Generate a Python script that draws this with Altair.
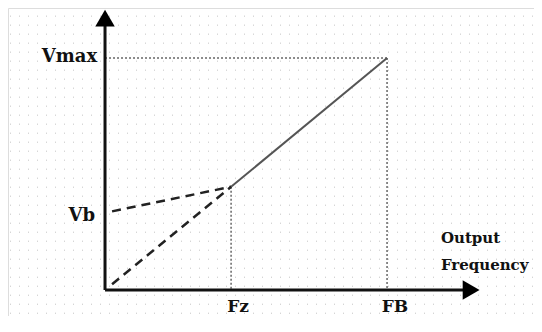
import altair as alt
import pandas as pd

# Conceptual units: frequency axis with FB = 100, voltage axis with Vmax = 100
FZ, FB = 44.7, 100.0
VB, VZ, VMAX = 33.9, 44.5, 100.0

# plotted curve segments
solid_x = [FZ, FB]
solid_y = [VZ, VMAX]
dash_b_x = [2.5, FZ]
dash_b_y = [VB, VZ]
dash_0_x = [2.5, FZ]
dash_0_y = [2.5, VZ]

# label text
label_text = ["Vmax", "Vb", "Fz", "FB", "Output", "Frequency"]
label_x = [-2.8, -3.5, 47.2, 102.8, 119.1, 119.1]
label_y = [100.4, 31.7, -7.2, -7.2, 22.4, 10.8]
label_align = ["right", "right", "center", "center", "left", "left"]
label_size = [18, 18, 17, 17, 15, 15]

# background dot grid rows (decorative texture)
grid_rows = [round(-10 + i * 3.88, 2) for i in range(34)]

XD = [-34.4, 152.1]
YD = [-11.2, 121.55]
xs = alt.Scale(domain=XD, nice=False, zero=False)
ys = alt.Scale(domain=YD, nice=False, zero=False)

X = lambda: alt.X("x:Q", scale=xs, axis=None)
Y = lambda: alt.Y("y:Q", scale=ys, axis=None)

def seg(xv, yv):
    return pd.DataFrame({"x": xv, "y": yv})

grid = alt.Chart(pd.DataFrame({"y": grid_rows})).mark_rule(
    color="#c4c4c4", strokeWidth=1, strokeDash=[1, 8]
).encode(y=Y(), x=alt.value(2), x2=alt.value(526))

solid = alt.Chart(seg(solid_x, solid_y)).mark_line(color="#555555", strokeWidth=2).encode(x=X(), y=Y())
dash1 = alt.Chart(seg(dash_b_x, dash_b_y)).mark_line(color="#222222", strokeWidth=2.5, strokeDash=[9, 6]).encode(x=X(), y=Y())
dash2 = alt.Chart(seg(dash_0_x, dash_0_y)).mark_line(color="#222222", strokeWidth=2.5, strokeDash=[9, 6]).encode(x=X(), y=Y())

# dotted guide lines
guides = pd.DataFrame({
    "x": [0, FB, FZ],
    "x2": [FB, FB, FZ],
    "y": [VMAX, VMAX, VZ],
    "y2": [VMAX, 0, 0],
})
guide = alt.Chart(guides).mark_rule(color="#666666", strokeWidth=1.5, strokeDash=[2, 2]).encode(
    x=X(), x2="x2:Q", y=Y(), y2="y2:Q",
)

axes_df = pd.DataFrame({"x": [0, 0], "x2": [0, 127.7], "y": [0, 0], "y2": [114, 0]})
axes = alt.Chart(axes_df).mark_rule(color="#111111", strokeWidth=3).encode(
    x=X(), x2="x2:Q", y=Y(), y2="y2:Q",
)

arrows_df = pd.DataFrame({"x": [0, 129.8], "y": [117.2, 0], "shape": ["triangle-up", "triangle-right"]})
arrows = alt.Chart(arrows_df).mark_point(filled=True, color="#000000", size=380, opacity=1).encode(
    x=X(), y=Y(),
    shape=alt.Shape("shape:N", scale=None, legend=None),
)

labels_df = pd.DataFrame({"x": label_x, "y": label_y, "t": label_text, "a": label_align, "s": label_size})
labels = []
for al in ["right", "center", "left"]:
    for sz in sorted(set(label_size)):
        sub = labels_df[(labels_df.a == al) & (labels_df.s == sz)]
        if len(sub) == 0:
            continue
        labels.append(
            alt.Chart(sub).mark_text(
                align=al, baseline="middle", font="DejaVu Serif",
                fontSize=sz, fontWeight="bold", color="#111111"
            ).encode(x=X(), y=Y(), text="t:N")
        )

chart = alt.layer(grid, guide, solid, dash1, dash2, axes, arrows, *labels).properties(
    width=526, height=308, padding=0, autosize=alt.AutoSizeParams(type="none")
).configure_view(stroke=None).configure(background="white")

chart.save("out.html", embed_options={"renderer": "svg", "actions": False})
